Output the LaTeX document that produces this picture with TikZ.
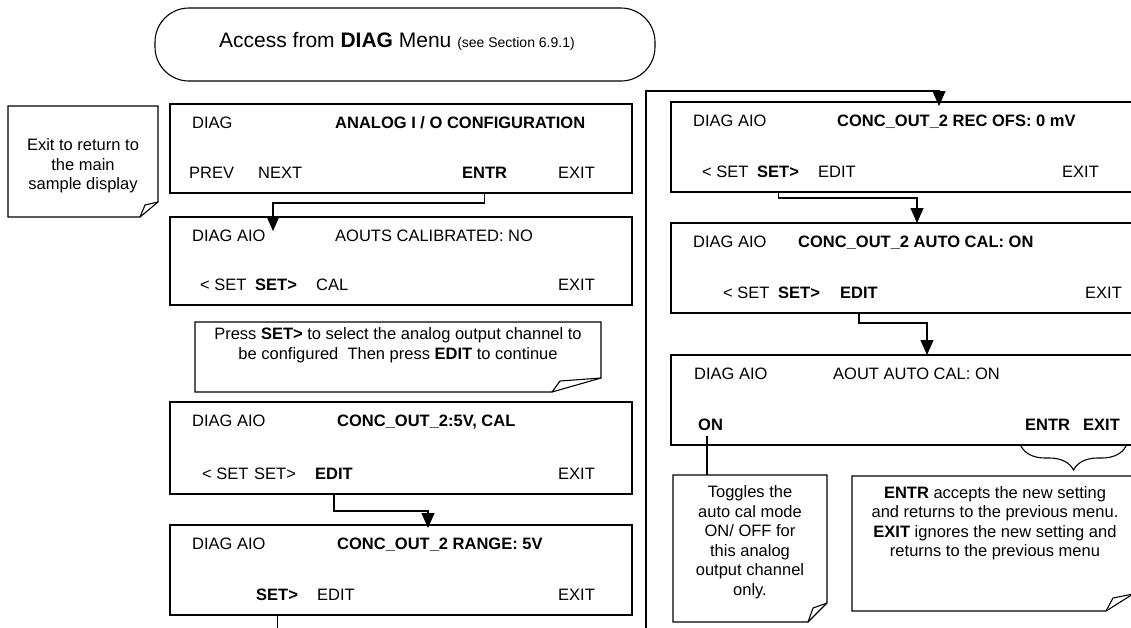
\documentclass[tikz,border=0pt]{standalone}
\usepackage{fontspec}
\setmainfont{Liberation Sans}
\usetikzlibrary{arrows.meta,calc,decorations.pathreplacing}
\begin{document}
\begin{tikzpicture}[x=1pt,y=-1pt,
  frame/.style={draw,line width=1.1pt,inner sep=0pt,outer sep=0pt,anchor=north west},
  wire/.style={line width=1.1pt},
  conn/.style={line width=1.1pt,-{Triangle[width=13pt,length=15pt]}},
  txt/.style={anchor=base west,inner sep=0pt,font=\fontsize{16.5}{19.5}\selectfont},
  btxt/.style={anchor=base west,inner sep=0pt,font=\fontsize{16.5}{19.5}\selectfont\bfseries},
  notetxt/.style={align=center,inner sep=0pt,font=\fontsize{16.5}{19.5}\selectfont}]
\fill[white] (0,0) rectangle (1131,627);
\useasboundingbox (0,0) rectangle (1131,627);
\clip (0,0) rectangle (1131,627);

% header
\node[frame,rounded corners=34pt,minimum width=500,minimum height=73] (hdr) at (155,8) {};
\node[anchor=base west,inner sep=0pt] (hdrt) at (219,47)
  {\fontsize{21}{24}\selectfont Access from \textbf{DIAG} Menu \fontsize{14}{16}\selectfont(see Section 6.9.1)};

% left note
\draw[wire] (8,106) -- (158,106) -- (158,202) -- (140,217) -- (8,217) -- cycle;
\draw[wire] (140,217) -- (145,205) -- (158,202);
\node[notetxt] (n1) at (83,166) {Exit to return to\\the main\\sample display};

% left column boxes
\node[frame,minimum width=462,minimum height=89] (b1) at (170,104) {};
\node[txt] (b1a) at (192,128) {DIAG};
\node[btxt] (b1b) at (335,128) {ANALOG I / O CONFIGURATION};
\node[txt] (b1c) at (189,178) {PREV};
\node[txt] (b1d) at (258,178) {NEXT};
\node[btxt] (e1) at (462,178) {ENTR};
\node[txt] (b1f) at (558,178) {EXIT};

\node[frame,minimum width=462,minimum height=88] (b2) at (170,217) {};
\node[txt] (b2a) at (192,241) {DIAG AIO};
\node[txt] (b2b) at (335,241) {AOUTS CALIBRATED: NO};
\node[txt] (b2c) at (200,290) {< SET};
\node[btxt] (b2d) at (255,290) {SET>};
\node[txt] (b2e) at (316,290) {CAL};
\node[txt] (b2f) at (558,290) {EXIT};

% press note
\draw[wire] (195,322) -- (601,322) -- (601,378) -- (552,392) -- (195,392) -- cycle;
\draw[wire] (552,392) -- (560,381) -- (601,378);
\node[notetxt] (n2) at (398,345) {Press \textbf{SET>} to select the analog output channel to\\be configured\ \ Then press \textbf{EDIT} to continue};

\node[frame,minimum width=462,minimum height=92] (b3) at (170,402) {};
\node[txt] (b3a) at (192,426) {DIAG AIO};
\node[btxt] (b3b) at (337,426) {CONC\_OUT\_2:5V, CAL};
\node[txt] (b3c) at (202,479) {< SET};
\node[txt] (b3d) at (254,479) {SET>};
\node[btxt] (ed3) at (315,479) {EDIT};
\node[txt] (b3f) at (558,479) {EXIT};

\node[frame,minimum width=462,minimum height=90] (b4) at (170,525) {};
\node[txt] (b4a) at (192,549) {DIAG AIO};
\node[btxt] (b4b) at (337,549) {CONC\_OUT\_2 RANGE: 5V};
\node[btxt] (st4) at (256,600) {SET>};
\node[txt] (b4e) at (317,600) {EDIT};
\node[txt] (b4f) at (558,600) {EXIT};

% right column boxes
\node[frame,minimum width=469,minimum height=90] (r1) at (671,102) {};
\node[txt] (r1a) at (693,126) {DIAG AIO};
\node[btxt] (r1b) at (837,126) {CONC\_OUT\_2 REC OFS: 0 mV};
\node[txt] (r1c) at (702,177) {< SET};
\node[btxt] (st1) at (757,177) {SET>};
\node[txt] (r1e) at (818,177) {EDIT};
\node[txt] (r1f) at (1062,177) {EXIT};

\node[frame,minimum width=469,minimum height=90] (r2) at (671,223) {};
\node[txt] (r2a) at (693,247) {DIAG AIO};
\node[btxt] (r2b) at (798,247) {CONC\_OUT\_2 AUTO CAL: ON};
\node[txt] (r2c) at (723,298) {< SET};
\node[btxt] (r2d) at (778,298) {SET>};
\node[btxt] (ed2) at (840,298) {EDIT};
\node[txt] (r2f) at (1085,298) {EXIT};

\node[frame,minimum width=469,minimum height=90] (r3) at (671,355) {};
\node[txt] (r3a) at (694,379) {DIAG AIO};
\node[txt] (r3b) at (833,379) {AOUT AUTO CAL: ON};
\node[btxt] (on) at (698,430) {ON};
\node[btxt] (r3d) at (1025,430) {ENTR};
\node[btxt] (r3e) at (1083,430) {EXIT};

% toggles note
\draw[wire] (673,475) -- (827,475) -- (827,603) -- (808,622) -- (673,622) -- cycle;
\draw[wire] (808,622) -- (813,608) -- (827,603);
\node[notetxt] (n3) at (750,542) {Toggles the\\auto cal mode\\ON/ OFF for\\this analog\\output channel\\only.};

% entr note
\draw[wire] (852,476) -- (1133,476) -- (1133,594) -- (1106,611) -- (852,611) -- cycle;
\draw[wire] (1106,611) -- (1113,598) -- (1133,594);
\node[notetxt] (n4) at (995,523) {\textbf{ENTR} accepts the new setting\\and returns to the previous menu.\\\textbf{EXIT} ignores the new setting and\\returns to the previous menu};

% brace
\draw[wire,decorate,decoration={brace,mirror,amplitude=24pt}] (1021,446) -- (1126,446);

% connectors
\coordinate (a2) at (273,231);
\coordinate (a4) at ($(b4.north west)+(258,3)$);
\coordinate (dv) at (646,91);
\coordinate (a5) at ($(r1.north west)+(268,4)$);
\coordinate (a6) at ($(r2.north west)+(246,0)$);
\coordinate (a7) at ($(r3.north west)+(256,0)$);
\coordinate (tg) at (707,475);

\draw[conn] (e1 |- b1.south) -- ++(0,10) -| (a2);
\draw[conn] (ed3 |- b3.south) -- ++(0,17) -| (a4);
\draw[conn] (st4 |- b4.south) -- ++(0,40) -| (dv) -| (a5);
\draw[conn] (st1 |- r1.south) -- ++(0,6) -| (a6);
\draw[conn] (ed2 |- r2.south) -- ++(0,10) -| (a7);
\draw[wire] ($(on.south -| tg)+(0,6)$) -- (tg);
\end{tikzpicture}
\end{document}
